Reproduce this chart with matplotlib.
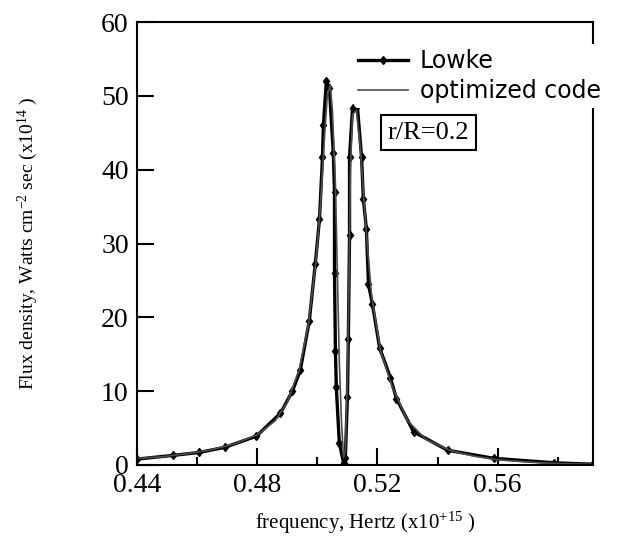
import matplotlib
matplotlib.use('Agg')
import matplotlib.pyplot as plt
from matplotlib.ticker import MultipleLocator

plt.rcParams['font.family'] = 'Liberation Serif'
plt.rcParams['mathtext.fontset'] = 'custom'
plt.rcParams['mathtext.rm'] = 'Liberation Serif'
plt.rcParams['mathtext.it'] = 'Liberation Serif:italic'

# Lowke curve (frequency in 1e15 Hz, flux density in 1e14)
lowke_f = [0.4400, 0.4520, 0.4607, 0.4693, 0.4797, 0.4877, 0.4917, 0.4943,
           0.4973, 0.4993, 0.5007, 0.5017, 0.5020, 0.5030, 0.5040, 0.5053,
           0.5057, 0.5057, 0.5060, 0.5063, 0.5073, 0.5087, 0.5093, 0.5100,
           0.5103, 0.5107, 0.5107, 0.5117, 0.5133, 0.5147, 0.5153, 0.5163,
           0.5170, 0.5183, 0.5207, 0.5243, 0.5263, 0.5320, 0.5433, 0.5587,
           0.5787, 0.5917]
lowke_v = [0.8, 1.3, 1.7, 2.4, 3.9, 7.0, 10.0, 12.8,
           19.5, 27.2, 33.3, 41.7, 46.0, 52.0, 51.0, 42.3,
           37.0, 26.0, 15.5, 10.5, 3.0, 0.3, 1.0, 9.2,
           17.0, 31.2, 41.7, 48.4, 48.6, 41.7, 36.0, 32.0,
           24.5, 21.8, 15.9, 11.8, 9.0, 4.5, 2.0, 0.9,
           0.3, 0.1]

# optimized code curve
opt_f = [0.4400, 0.4480, 0.4560, 0.4640, 0.4720, 0.4800, 0.4860, 0.4900,
         0.4940, 0.4970, 0.4995, 0.5010, 0.5023, 0.5033, 0.5043, 0.5050,
         0.5060, 0.5067, 0.5073, 0.5080, 0.5087, 0.5093, 0.5100, 0.5105,
         0.5110, 0.5117, 0.5130, 0.5143, 0.5160, 0.5180, 0.5210, 0.5250,
         0.5300, 0.5360, 0.5440, 0.5520, 0.5600, 0.5700, 0.5800, 0.5917]
opt_v = [0.9, 1.1, 1.5, 2.0, 2.8, 4.1, 6.0, 8.5,
         13.0, 19.0, 27.5, 35.0, 44.0, 50.0, 51.5, 48.0,
         38.0, 25.0, 14.0, 6.0, 1.0, 2.0, 12.0, 25.0,
         40.0, 47.5, 48.0, 43.0, 33.0, 23.0, 15.5, 10.5,
         6.0, 3.5, 2.0, 1.2, 0.7, 0.4, 0.2, 0.1]

fig = plt.figure(figsize=(6.22, 5.41), dpi=100)
ax = fig.add_axes([0.2203, 0.1405, 0.7331, 0.8188])

ax.plot(lowke_f, lowke_v, color='black', lw=2.4, marker='d', markersize=4.5,
        label='Lowke')
ax.plot(opt_f, opt_v, color='0.3', lw=1.2, label='optimized code')

ax.set_xlim(0.44, 0.5917)
ax.set_ylim(0, 60)
ax.set_xticks([0.44, 0.48, 0.52, 0.56])
ax.set_xticklabels(['0.44', '0.48', '0.52', '0.56'])
ax.xaxis.set_minor_locator(MultipleLocator(0.02))
ax.yaxis.set_major_locator(MultipleLocator(10))

ax.tick_params(which='major', direction='in', length=12, width=1.5,
               labelsize=20, pad=6, top=False, right=False)
ax.tick_params(which='minor', direction='in', length=6, width=1.5,
               top=False, right=False)
for s in ax.spines.values():
    s.set_linewidth(1.5)

ax.set_xlabel(r'frequency, Hertz (x10$^{+15}$ )', fontsize=15, labelpad=8)
ax.set_ylabel(r'Flux density, Watts cm$^{-2}$ sec (x10$^{14}$ )',
              fontsize=14, labelpad=44)

leg = ax.legend(loc='upper left', bbox_to_anchor=(0.475, 0.95), frameon=True,
                prop={'family': 'DejaVu Sans', 'size': 17}, handlelength=2.1,
                handletextpad=0.5, labelspacing=0.25, borderpad=0.2,
                borderaxespad=0)
leg.get_frame().set_edgecolor('none')
leg.get_frame().set_facecolor('white')
leg.get_frame().set_alpha(1)

ax.text(0.5233, 45.0, 'r/R=0.2', fontsize=19, ha='left', va='center',
        bbox=dict(boxstyle='square,pad=0.25', facecolor='white',
                  edgecolor='black', linewidth=1.5))

plt.savefig('out.png', dpi=100)
